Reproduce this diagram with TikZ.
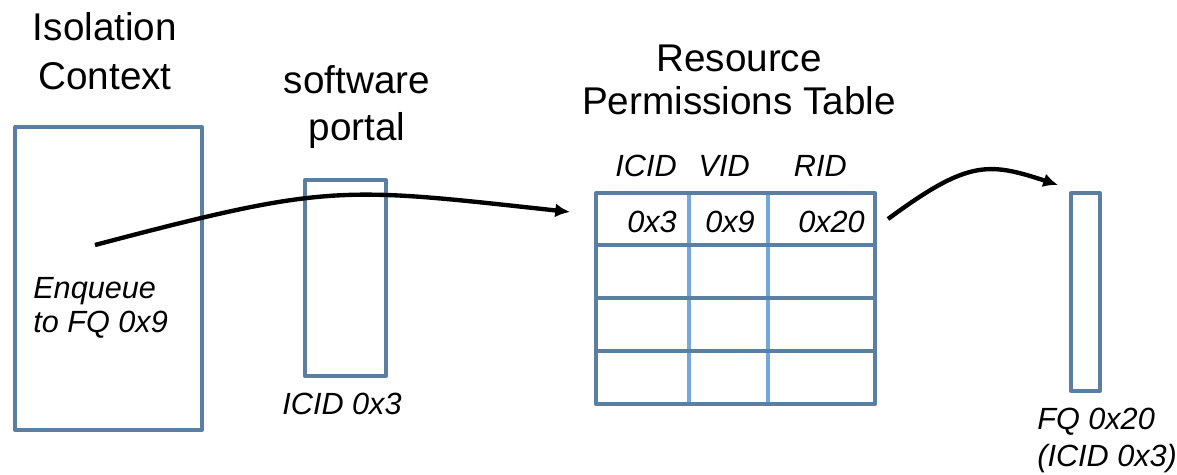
\documentclass[tikz,border=0pt]{standalone}
\usepackage{fontspec}
\setmainfont{Liberation Sans}
\usetikzlibrary{arrows.meta,fit}
\definecolor{steelblue}{HTML}{5B7FA1}
\definecolor{lightblue}{HTML}{73A8D8}
\tikzset{
  panel/.style={rectangle,draw=steelblue,line width=2.9pt,line join=round,inner sep=0pt},
  rowline/.style={draw=steelblue,line width=2.9pt},
  colline/.style={draw=lightblue,line width=2.9pt},
  heading/.style={font=\fontsize{27.5}{#1}\selectfont,align=center,inner sep=0pt},
  note/.style={font=\fontsize{21.8}{#1}\selectfont\itshape,align=left,inner sep=0pt},
  tcell/.style={font=\fontsize{21.8}{24}\selectfont\itshape,inner sep=0pt,anchor=base east},
  flow/.style={-{Latex[length=10.5pt,width=10pt]},line width=3.1pt,black}
}

\begin{document}
\begin{tikzpicture}[x=0.025cm,y=-0.025cm]
  \useasboundingbox (0,0) rectangle (1177,474);
  % isolation context
  \node[heading=34.7pt,anchor=north] (isolbl) at (105,12.5) {Isolation\\Context};
  \node[panel,fit={(15,127) (202,430)}] (isoctx) {};
  \node[note=24pt,anchor=north west] (enqlbl) at (33,277) {Enqueue\\to FQ 0x9};
  % software portal
  \node[heading=33.3pt,anchor=north] (portlbl) at (357,65) {software\\portal};
  \node[panel,fit={(305,180) (386,376)}] (portal) {};
  \node[note=24pt,anchor=north] (icidlbl) at (342,393) {ICID 0x3};
  % resource permissions table
  \node[heading=30.5pt,anchor=north] (rptlbl) at (739,45) {Resource\\Permissions Table};
  \foreach \cx in {689,768}
    \draw[colline] (\cx,193) -- (\cx,404);
  \foreach \ry in {245,298,351}
    \draw[rowline] (596,\ry) -- (875,\ry);
  \node[panel,fit={(596,193) (875,404)}] (rpt) {};
  \node[tcell] (hicid) at (677,176) {ICID};
  \node[tcell] (hvid) at (750,176) {VID};
  \node[tcell] (hrid) at (847,176) {RID};
  \node[tcell] (cicid) at (677,232) {0x3};
  \node[tcell] (cvid) at (755,232) {0x9};
  \node[tcell] (crid) at (865,232) {0x20};
  % frame queue
  \node[panel,fit={(1071,193) (1100,391)}] (fq) {};
  \node[note=26pt,anchor=north west] (fqlbl) at (1037,408) {FQ 0x20\\(ICID 0x3)};
  % flow
  \coordinate (enq) at (95,245);
  \coordinate (rptin) at (570,212);
  \coordinate (rptout) at (888,219);
  \coordinate (fqin) at (1058,185);
  \draw[flow] (enq) .. controls (330,183) and (340,187) .. (rptin);
  \draw[flow] (rptout) .. controls (968,160) and (988,162) .. (fqin);
\end{tikzpicture}
\end{document}
